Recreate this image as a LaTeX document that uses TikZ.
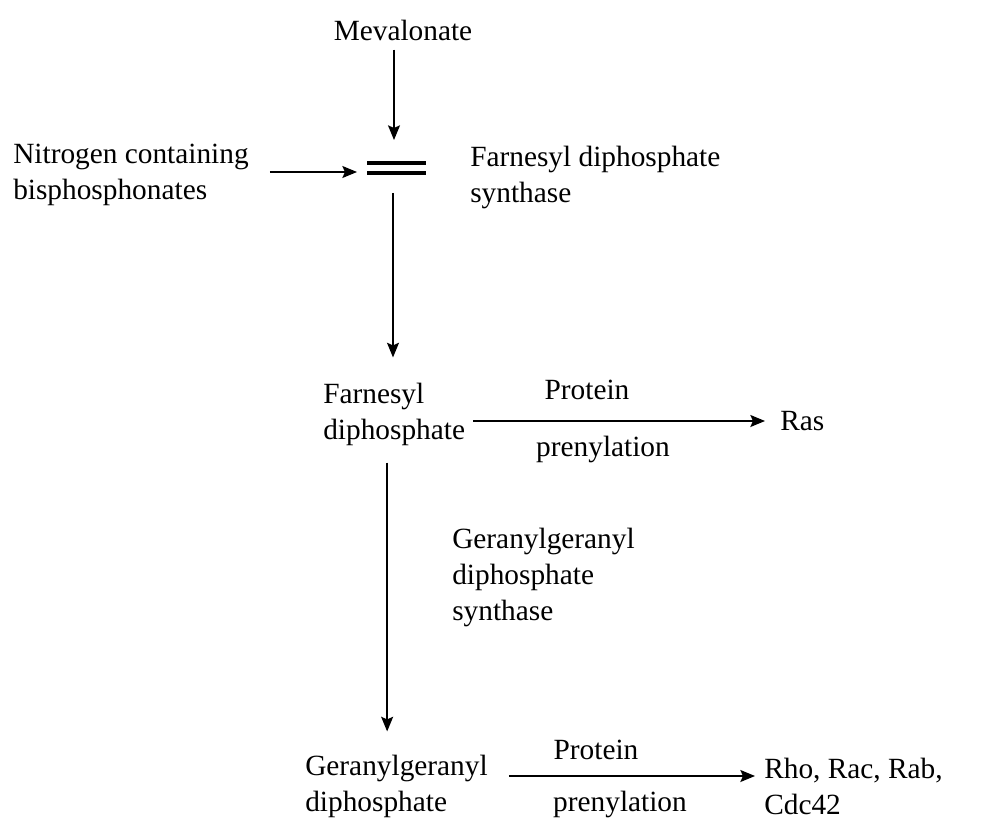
\documentclass[tikz,border=0pt]{standalone}
\usepackage{fontspec}
\setmainfont{Liberation Serif}
\usetikzlibrary{arrows.meta}

\begin{document}
\begin{tikzpicture}[
  x=0.75pt, y=-0.75pt,
  every node/.style={inner sep=0pt, align=left, font=\fontsize{22}{27}\selectfont},
  arr/.style={-{Stealth[length=11pt,width=9pt,inset=2pt]}, line width=1.1pt},
  bars/.style={line width=2.8pt},
  ]
  \useasboundingbox (0,0) rectangle (982,820);
  \node (mev) at (403,30) {Mevalonate};
  \node[anchor=west] (nbp) at (13,175) {Nitrogen containing\\bisphosphonates};
  \node[anchor=west] (fpps) at (470,177) {Farnesyl diphosphate\\synthase};
  \node[anchor=west] (fpp) at (323,414) {Farnesyl\\diphosphate};
  \node (prot1) at (587,390) {Protein};
  \node (pren1) at (603,449) {prenylation};
  \node[anchor=west] (ras) at (780,421) {Ras};
  \node[anchor=west] (ggpps) at (452,577) {Geranylgeranyl\\diphosphate\\synthase};
  \node[anchor=west] (ggpp) at (305,786) {Geranylgeranyl\\diphosphate};
  \node (prot2) at (596,750) {Protein};
  \node (pren2) at (620,804) {prenylation};
  \node[anchor=west] (rho) at (764,786) {Rho, Rac, Rab,\\Cdc42};
  % the blocked enzyme
  \coordinate (bar) at (394,168);
  \draw[bars] ([shift={(-27,-5)}]bar) -- ++(59,0) ([shift={(-27,5)}]bar) -- ++(59,0);
  \draw[arr] (mev.south -| bar) ++(0,9) -- ([shift={(0,-28)}]bar);
  \draw[arr] (nbp.east |- bar) ++(21,4) -- ([shift={(-37,4)}]bar);
  \draw[arr] ([shift={(-1,25)}]bar) -- ([shift={(-1,-25)}]bar |- fpp.north);
  \draw[arr] (fpp.east |- ras.west) ++(8,0) -- ([shift={(-15,0)}]ras.west);
  \draw[arr] ([shift={(-7,17)}]fpp.south) -- ([shift={(-7,-23)}]fpp.south |- ggpp.north);
  \draw[arr] ([shift={(21,-10)}]ggpp.east) -- ([shift={(-9,-10)}]rho.west);
\end{tikzpicture}
\end{document}
